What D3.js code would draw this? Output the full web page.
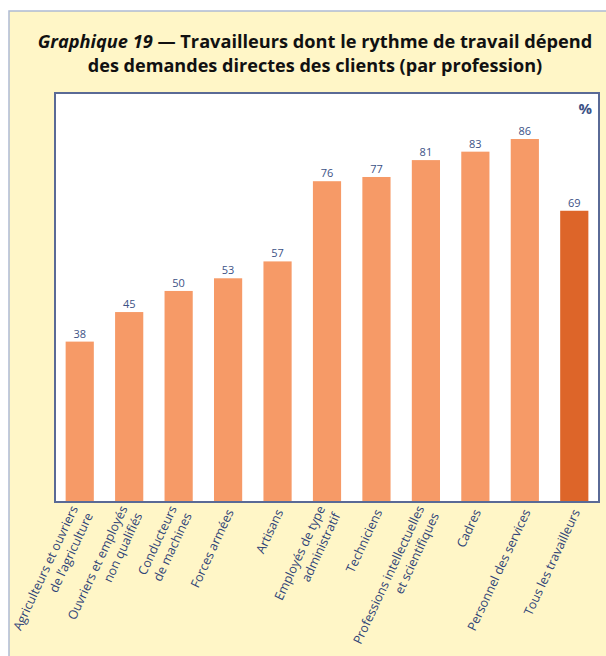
<!DOCTYPE html>
<html>
<head>
<meta charset="utf-8">
<script src="https://cdn.jsdelivr.net/npm/d3@7"></script>
<style>
  html, body { margin: 0; padding: 0; background: #ffffff; }
  svg { display: block; }
</style>
</head>
<body>
<svg id="chart" width="606" height="656"></svg>
<script>
const categories = [
  ["Agriculteurs et ouvriers", "de l’agriculture"],
  ["Ouvriers et employés", "non qualifiés"],
  ["Conducteurs", "de machines"],
  ["Forces armées"],
  ["Artisans"],
  ["Employés de type", "administratif"],
  ["Techniciens"],
  ["Professions intellectuelles", "et scientifiques"],
  ["Cadres"],
  ["Personnel des services"],
  ["Tous les travailleurs"]
];
const values = [38, 45, 50, 53, 57, 76, 77, 81, 83, 86, 69];
const highlight = [false, false, false, false, false, false, false, false, false, false, true];
const titleLine1Italic = "Graphique 19";
const titleLine1Rest = " — Travailleurs dont le rythme de travail dépend";
const titleLine2 = "des demandes directes des clients (par profession)";
const unitLabel = "%";

const svg = d3.select("#chart");
const W = 606, H = 656;
const box = { left: 55, top: 93, right: 599, bottom: 502 };
const navy = "#2F4478";

// panel
svg.append("rect").attr("x", 9).attr("y", 11).attr("width", W - 9 + 2).attr("height", H - 11 + 2)
  .attr("fill", "#FFF6C7").attr("stroke", "#AEBBD3").attr("stroke-width", 1.5);

// title
const fontFam = "'Open Sans', 'Noto Sans', sans-serif";
const t1 = svg.append("text").attr("x", W / 2 + 12).attr("y", 48)
  .attr("text-anchor", "middle").attr("font-family", fontFam)
  .attr("font-weight", "bold").attr("font-size", 17).attr("fill", "#111");
t1.append("tspan").attr("font-style", "italic").text(titleLine1Italic);
t1.append("tspan").text(titleLine1Rest);
const t2 = svg.append("text").attr("x", W / 2 + 12).attr("y", 72)
  .attr("text-anchor", "middle").attr("font-family", fontFam)
  .attr("font-weight", "bold").attr("font-size", 17).attr("fill", "#111")
  .text(titleLine2);
function fit(sel, target) {
  const w = sel.node().getComputedTextLength();
  sel.attr("font-size", 17 * target / w);
}
fit(t1, 555);
fit(t2, 455);

// plot box
svg.append("rect").attr("x", box.left).attr("y", box.top)
  .attr("width", box.right - box.left).attr("height", box.bottom - box.top)
  .attr("fill", "#ffffff");

const x = d3.scaleBand().domain(d3.range(values.length))
  .range([box.left, box.right]).paddingInner(0.43).paddingOuter(0.215);
const y = d3.scaleLinear().domain([0, 86]).range([box.bottom, 139]);

svg.append("g").selectAll("rect").data(values).join("rect")
  .attr("x", (d, i) => x(i))
  .attr("y", d => y(d))
  .attr("width", x.bandwidth())
  .attr("height", d => y(0) - y(d))
  .attr("fill", (d, i) => highlight[i] ? "#DD6529" : "#F69A67");

svg.append("g").selectAll("text").data(values).join("text")
  .attr("x", (d, i) => x(i) + x.bandwidth() / 2)
  .attr("y", d => y(d) - 4)
  .attr("text-anchor", "middle")
  .attr("font-family", fontFam).attr("font-size", 11)
  .attr("fill", "#3C5286")
  .text(d => d);

// box border
svg.append("rect").attr("x", box.left).attr("y", box.top)
  .attr("width", box.right - box.left).attr("height", box.bottom - box.top)
  .attr("fill", "none").attr("stroke", "#5A6A96").attr("stroke-width", 2);

svg.append("text").attr("x", 592).attr("y", 114)
  .attr("text-anchor", "end").attr("font-family", fontFam)
  .attr("font-weight", "bold").attr("font-size", 15).attr("fill", "#3C5286")
  .text(unitLabel);

// x axis labels
const xAxis = d3.axisBottom(x).tickSize(0).tickFormat("");
const ax = svg.append("g").attr("transform", `translate(0,${box.bottom})`).call(xAxis);
ax.select(".domain").remove();

const lineH = 16.5;
const lab = svg.append("g").selectAll("text").data(categories).join("text")
  .attr("transform", (d, i) => `translate(${x(i) + x.bandwidth() / 2 + 2},${box.bottom + 8}) rotate(-65)`)
  .attr("text-anchor", "end")
  .attr("font-family", fontFam).attr("font-size", 12.5)
  .attr("fill", navy);
lab.each(function(d) {
  const sel = d3.select(this);
  const n = d.length;
  d.forEach((line, k) => {
    sel.append("tspan").attr("x", 0)
      .attr("y", (k - (n - 1) / 2) * lineH)
      .attr("dy", "0.35em")
      .text(line);
  });
});
</script>
</body>
</html>
